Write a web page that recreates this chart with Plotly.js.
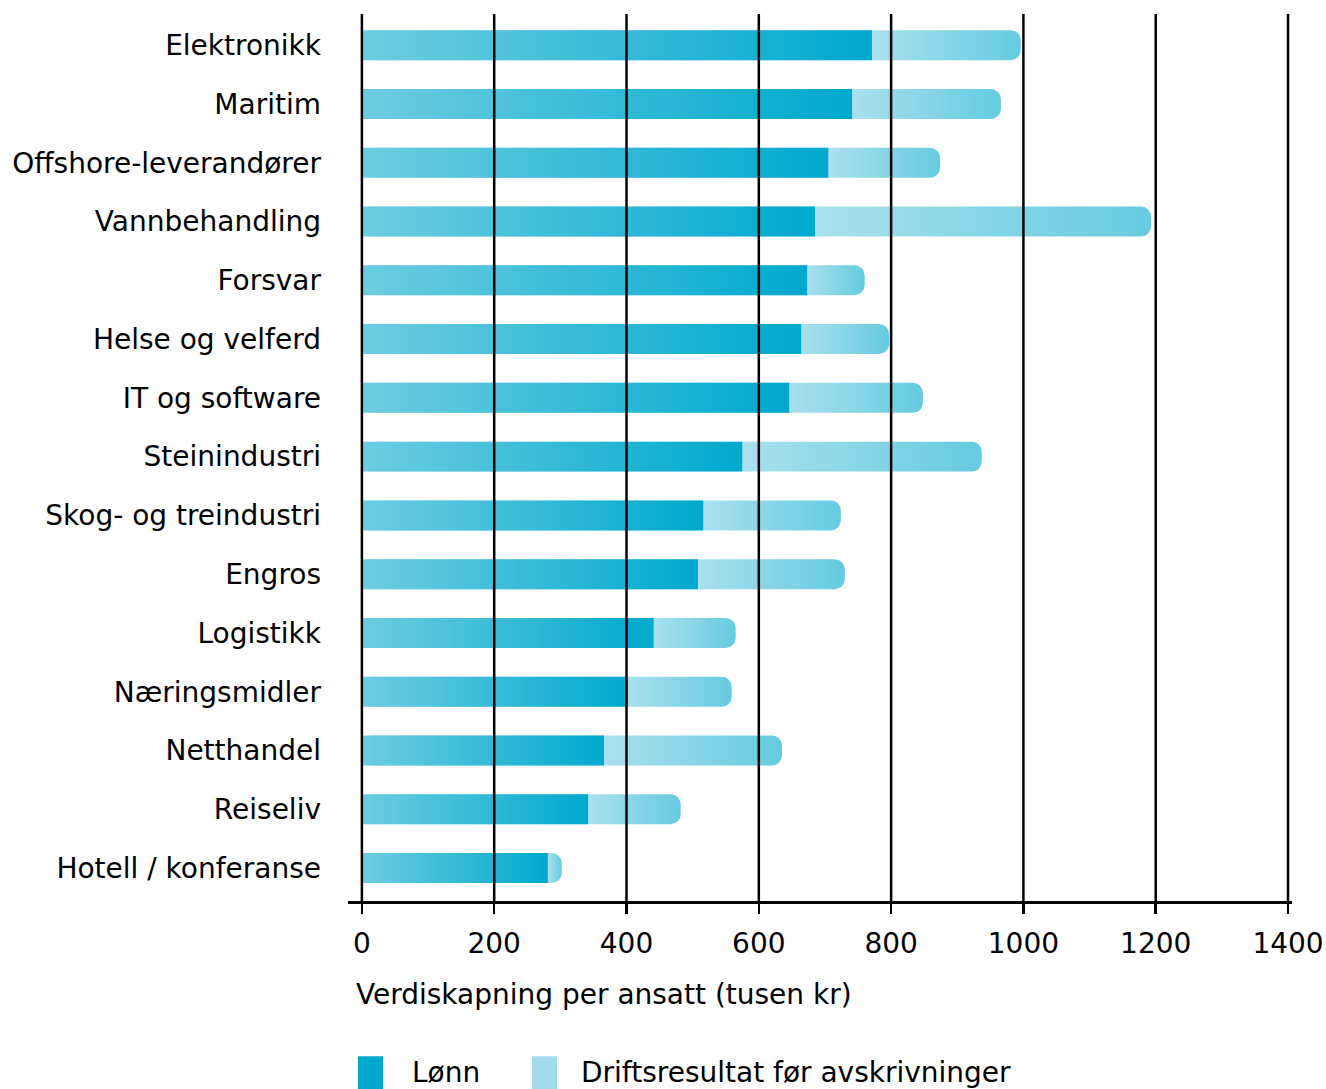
<!DOCTYPE html>
<html>
<head>
<meta charset="utf-8">
<script src="https://cdn.plot.ly/plotly-3.0.1.min.js"></script>
<style>
html,body{margin:0;padding:0;background:#fff;}
#chart{width:1326px;height:1089px;}
</style>
</head>
<body>
<div id="chart"></div>
<script>
var categories = ["Elektronikk","Maritim","Offshore-leverandører","Vannbehandling","Forsvar","Helse og velferd","IT og software","Steinindustri","Skog- og treindustri","Engros","Logistikk","Næringsmidler","Netthandel","Reiseliv","Hotell / konferanse"];
var lonn = [771, 741, 705, 685, 673, 664, 646, 575, 516, 508, 441, 402, 366, 342, 281];
var drift = [225, 225, 169, 508, 87, 133, 202, 362, 208, 222, 124, 157, 269, 140, 21];
var xTicks = [0, 200, 400, 600, 800, 1000, 1200, 1400];

var total = lonn.map(function(v, i){ return v + drift[i]; });
var FONT = "DejaVu Sans, sans-serif";

var traces = [
  {
    type: "bar", orientation: "h", name: "Driftsresultat før avskrivninger",
    y: categories, x: total, base: 0,
    marker: {color: "#a3dcec", cornerradius: 10},
    width: 0.51, legendrank: 2, hoverinfo: "skip"
  },
  {
    type: "bar", orientation: "h", name: "Lønn",
    y: categories, x: lonn,
    marker: {color: "#00a9ce", cornerradius: 10},
    width: 0.51, legendrank: 1, hoverinfo: "skip"
  }
];

var shapes = xTicks.map(function(t){
  return {type: "line", xref: "x", yref: "paper", x0: t, x1: t, y0: 0, y1: 1, layer: "above",
          line: {color: "#000", width: 2.5}};
});

var layout = {
  width: 1326, height: 1089,
  margin: {l: 348, r: 34, t: 14, b: 188},
  paper_bgcolor: "#fff", plot_bgcolor: "#fff",
  barmode: "overlay",
  font: {family: FONT, size: 28, color: "#000"},
  showlegend: true,
  legend: {orientation: "h", xref: "container", yref: "container", x: 0.265, xanchor: "left", y: 0.016, yanchor: "middle",
           font: {family: FONT, size: 28, color: "#000"}, traceorder: "normal",
           itemclick: false, itemdoubleclick: false},
  xaxis: {
    range: [-21, 1406], tickvals: xTicks, ticktext: xTicks.map(String),
    showgrid: false, zeroline: false, showline: true, linecolor: "#000", linewidth: 2.5,
    ticks: "outside", ticklen: 10, tickwidth: 2.5, tickcolor: "#000", ticklabelstandoff: 6,
    tickfont: {family: FONT, size: 28, color: "#000"}, fixedrange: true
  },
  yaxis: {
    type: "category", range: [14.56, -0.53], showgrid: false, zeroline: false, showline: false,
    ticks: "", ticklabelstandoff: 26, tickfont: {family: FONT, size: 28, color: "#000"}, fixedrange: true
  },
  annotations: [{
    text: "Verdiskapning per ansatt (tusen kr)", xref: "paper", yref: "paper",
    x: 0.0067, y: -0.105, xanchor: "left", yanchor: "middle", showarrow: false,
    font: {family: FONT, size: 28, color: "#000"}
  }],
  shapes: shapes
};

function addGradients(gd){
  var svg = gd.querySelector(".main-svg");
  var defs = svg.querySelector("defs");
  var NS = "http://www.w3.org/2000/svg";
  function grad(id, stops){
    var g = document.createElementNS(NS, "linearGradient");
    g.setAttribute("id", id);
    g.setAttribute("x1", "0"); g.setAttribute("x2", "1");
    g.setAttribute("y1", "0"); g.setAttribute("y2", "0");
    stops.forEach(function(s){
      var st = document.createElementNS(NS, "stop");
      st.setAttribute("offset", s[0]);
      st.setAttribute("stop-color", s[1]);
      g.appendChild(st);
    });
    defs.appendChild(g);
  }
  grad("gLonn", [[0, "#6dcde1"], [1, "#00a9ce"]]);
  var barTraces = gd.querySelectorAll(".barlayer .trace");
  var totPaths = barTraces[0].querySelectorAll("path");
  totPaths.forEach(function(p, i){
    var f = lonn[i] / total[i];
    grad("gTot" + i, [[0, "#a9e0ee"], [f, "#a9e0ee"], [1, "#65cbe0"]]);
    p.style.fill = "url(#gTot" + i + ")";
  });
  barTraces[1].querySelectorAll("path").forEach(function(p){
    p.style.fill = "url(#gLonn)";
  });
  // larger square legend symbols, placed like the reference
  var wantLeft = [412, 581];
  var symPaths = ["M-34,-15H-9V18H-34Z", "M-29,-15H-4V18H-29Z"];
  gd.querySelectorAll(".legend .traces").forEach(function(g, i){
    var t = g.querySelector("text");
    if (!t || wantLeft[i] === undefined) return;
    g.querySelectorAll(".legendpoints path").forEach(function(p){ p.setAttribute("d", symPaths[i]); });
    var m = /translate\(\s*([-\d.]+)[ ,]+([-\d.]+)\s*\)/.exec(g.getAttribute("transform") || "");
    if (!m) return;
    var delta = wantLeft[i] - t.getBoundingClientRect().left;
    g.setAttribute("transform", "translate(" + (parseFloat(m[1]) + delta) + "," + m[2] + ")");
  });
  var clip = gd.querySelector(".legend .scrollbox");
  if (clip) clip.removeAttribute("clip-path");
}

Plotly.newPlot("chart", traces, layout, {staticPlot: true, displayModeBar: false}).then(function(gd){
  addGradients(gd);
});
</script>
</body>
</html>
